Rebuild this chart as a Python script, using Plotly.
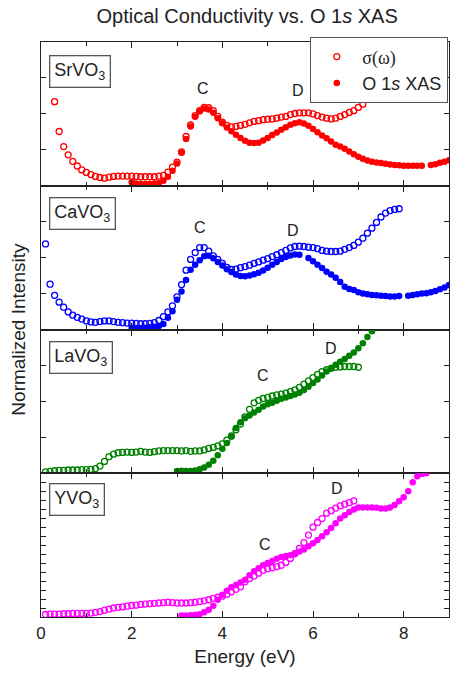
import plotly.graph_objects as go
from plotly.subplots import make_subplots

# ---------------- data (normalized intensity, arbitrary units 0-4 per panel) ----------------
sr_sig_x = [0.3,0.4,0.5,0.6,0.7,0.8,0.9,1.0,1.1,1.2,1.3,1.4,1.5,1.6,1.7,1.8,1.9,2.0,2.1,2.2,2.3,2.4,2.5,2.6,2.7,2.8,2.9,3.0,
            3.1,3.2,3.3,3.4,3.5,3.6,3.7,3.8,3.9,4.0,4.1,4.2,4.3,4.4,4.5,4.6,4.7,4.8,4.9,5.0,5.1,5.2,5.3,5.4,5.5,5.6,5.7,5.8,
            5.9,6.0,6.1,6.2,6.3,6.4,6.5,6.6,6.7,6.8,6.9,7.0,7.1,7.2,7.3,7.4,7.5,7.6,7.7,7.8]
sr_sig_y = [2.34,1.51,1.09,0.86,0.68,0.55,0.44,0.37,0.31,0.26,0.23,0.21,0.24,0.26,0.27,0.27,0.27,0.27,0.26,0.25,0.25,0.25,0.25,0.27,0.29,0.38,0.52,0.66,
            0.94,1.37,1.69,1.95,2.09,2.18,2.17,2.09,1.93,1.77,1.68,1.64,1.65,1.68,1.71,1.75,1.79,1.81,1.84,1.85,1.86,1.88,1.91,1.93,1.98,2.01,2.03,2.03,
            2.03,2.00,1.95,1.91,1.88,1.86,1.88,1.93,1.98,2.04,2.09,2.18,2.27,2.41,2.57,2.75,2.95,3.15,3.35,3.52]
sr_xas_x = [2.0,2.1,2.2,2.3,2.4,2.5,2.6,2.7,2.8,2.9,3.0,3.1,3.2,3.3,3.4,3.5,3.6,3.7,3.8,3.9,4.0,4.1,4.2,4.3,4.4,4.5,4.6,4.7,4.8,4.9,
            5.0,5.1,5.2,5.3,5.4,5.5,5.6,5.7,5.8,5.9,6.0,6.1,6.2,6.3,6.4,6.5,6.6,6.7,6.8,6.9,7.0,7.1,7.2,7.3,7.4,7.5,7.6,7.7,7.8,7.9,
            8.0,8.1,8.2,8.3,8.4,8.6,8.7,8.8,8.9,9.0]
sr_xas_y = [0.10,0.06,0.05,0.05,0.05,0.06,0.08,0.14,0.25,0.42,0.62,0.92,1.30,1.65,1.92,2.07,2.15,2.12,2.03,1.88,1.74,1.62,1.52,1.42,1.33,1.25,1.20,1.19,1.20,1.26,
            1.33,1.41,1.48,1.56,1.63,1.70,1.74,1.77,1.73,1.67,1.58,1.49,1.40,1.32,1.23,1.14,1.09,1.03,0.95,0.88,0.81,0.75,0.70,0.67,0.65,0.63,0.61,0.59,0.58,0.57,
            0.56,0.56,0.56,0.56,0.56,0.58,0.60,0.64,0.67,0.71]

ca_sig_x = [0.1,0.2,0.3,0.4,0.5,0.6,0.7,0.8,0.9,1.0,1.1,1.2,1.3,1.4,1.5,1.6,1.7,1.8,1.9,2.0,2.1,2.2,2.3,2.4,2.5,2.6,2.7,2.8,2.9,3.0,
            3.1,3.2,3.3,3.4,3.5,3.6,3.7,3.8,3.9,4.0,4.1,4.2,4.3,4.4,4.5,4.6,4.7,4.8,4.9,5.0,5.1,5.2,5.3,5.4,5.5,5.6,5.7,5.8,5.9,6.0,
            6.1,6.2,6.3,6.4,6.5,6.6,6.7,6.8,6.9,7.0,7.1,7.2,7.3,7.4,7.5,7.6,7.7,7.8,7.9]
ca_sig_y = [2.38,1.26,0.95,0.76,0.62,0.49,0.40,0.34,0.29,0.24,0.21,0.20,0.22,0.24,0.24,0.22,0.20,0.19,0.18,0.18,0.17,0.16,0.16,0.17,0.19,0.25,0.36,0.49,0.66,0.91,
            1.25,1.65,1.95,2.14,2.28,2.28,2.18,2.05,1.95,1.84,1.73,1.67,1.68,1.72,1.75,1.79,1.84,1.88,1.93,1.97,2.03,2.08,2.14,2.20,2.27,2.31,2.32,2.31,2.29,2.28,
            2.25,2.20,2.18,2.17,2.17,2.18,2.23,2.28,2.34,2.43,2.54,2.68,2.82,2.98,3.13,3.24,3.31,3.34,3.36]
ca_xas_x = [2.0,2.1,2.2,2.3,2.4,2.5,2.6,2.7,2.8,2.9,3.0,3.1,3.2,3.3,3.4,3.5,3.6,3.7,3.8,3.9,4.0,4.1,4.2,4.3,4.4,4.5,4.6,4.7,4.8,4.9,
            5.0,5.1,5.2,5.3,5.4,5.5,5.6,5.7,5.9,6.0,6.1,6.2,6.3,6.4,6.5,6.6,6.7,6.8,6.9,7.0,7.1,7.2,7.3,7.4,7.5,7.6,7.7,7.8,7.9,
            8.1,8.2,8.3,8.4,8.5,8.6,8.7,8.8,8.9,9.0]
ca_xas_y = [0.04,0.04,0.04,0.05,0.06,0.08,0.10,0.15,0.33,0.51,0.83,1.06,1.38,1.66,1.80,1.93,2.04,2.05,1.98,1.88,1.78,1.68,1.60,1.53,1.49,1.48,1.50,1.54,1.58,1.64,
            1.72,1.80,1.88,1.96,2.02,2.06,2.09,2.08,1.99,1.90,1.80,1.71,1.61,1.53,1.44,1.32,1.19,1.13,1.10,1.04,1.00,0.98,0.96,0.95,0.94,0.93,0.92,0.92,0.93,
            0.94,0.96,0.98,1.00,1.01,1.04,1.07,1.12,1.17,1.24]

la_sig_x = [0.1,0.2,0.3,0.4,0.5,0.6,0.7,0.8,0.9,1.0,1.1,1.2,1.3,1.4,1.5,1.6,1.7,1.8,1.9,2.0,2.1,2.2,2.3,2.4,2.5,2.6,2.7,2.8,2.9,3.0,
            3.1,3.2,3.3,3.4,3.5,3.6,3.7,3.8,3.9,4.0,4.1,4.2,4.3,4.4,4.5,4.6,4.7,4.8,4.9,5.0,5.1,5.2,5.3,5.4,5.5,5.6,5.7,5.8,5.9,6.0,
            6.1,6.2,6.3,6.4,6.5,6.6,6.7,6.8,6.9,7.0]
la_sig_y = [0.04,0.05,0.07,0.08,0.08,0.09,0.09,0.09,0.10,0.10,0.11,0.13,0.20,0.33,0.46,0.53,0.57,0.58,0.59,0.58,0.59,0.61,0.59,0.58,0.60,0.62,0.63,0.63,0.63,0.63,
            0.62,0.63,0.61,0.62,0.62,0.65,0.69,0.72,0.76,0.82,0.92,1.04,1.21,1.37,1.57,1.78,1.96,2.03,2.08,2.11,2.15,2.18,2.20,2.23,2.27,2.32,2.39,2.48,2.57,2.66,
            2.75,2.83,2.88,2.92,2.95,2.96,2.97,2.97,2.97,2.95]
la_xas_x = [3.0,3.1,3.2,3.3,3.4,3.5,3.6,3.7,3.8,3.9,4.0,4.1,4.2,4.3,4.4,4.5,4.6,4.7,4.8,4.9,5.0,5.1,5.2,5.3,5.4,5.5,5.6,5.7,5.8,5.9,
            6.0,6.1,6.2,6.3,6.4,6.5,6.6,6.7,6.8,6.9,7.0,7.1,7.2,7.3,7.4]
la_xas_y = [0.06,0.07,0.06,0.06,0.08,0.11,0.16,0.24,0.35,0.50,0.68,0.84,1.02,1.26,1.42,1.53,1.61,1.69,1.77,1.86,1.92,1.96,2.02,2.07,2.11,2.15,2.19,2.24,2.32,2.41,
            2.51,2.61,2.72,2.83,2.93,3.02,3.10,3.18,3.27,3.36,3.48,3.62,3.79,3.95,4.10]

y_sig_x = [0.1,0.2,0.3,0.4,0.5,0.6,0.7,0.8,0.9,1.0,1.1,1.2,1.3,1.4,1.5,1.6,1.7,1.8,1.9,2.0,2.1,2.2,2.3,2.4,2.5,2.6,2.7,2.8,2.9,3.0,
           3.1,3.2,3.3,3.4,3.5,3.6,3.7,3.8,3.9,4.0,4.1,4.2,4.3,4.4,4.5,4.6,4.7,4.8,4.9,5.0,5.1,5.2,5.3,5.4,5.5,5.6,5.7,5.8,5.9,6.0,
           6.1,6.2,6.3,6.4,6.5,6.6,6.7,6.8,6.9]
y_sig_y = [0.07,0.08,0.08,0.08,0.09,0.09,0.10,0.10,0.10,0.10,0.11,0.13,0.15,0.19,0.22,0.25,0.27,0.28,0.30,0.32,0.33,0.35,0.36,0.37,0.38,0.39,0.40,0.41,0.40,0.39,
           0.39,0.39,0.40,0.41,0.43,0.45,0.48,0.52,0.55,0.58,0.63,0.70,0.77,0.84,0.98,1.07,1.14,1.22,1.30,1.34,1.37,1.40,1.44,1.52,1.63,1.76,1.91,2.07,2.28,2.50,
           2.63,2.74,2.89,2.96,3.03,3.09,3.14,3.18,3.23]
y_xas_x = [3.1,3.2,3.3,3.4,3.5,3.6,3.7,3.8,3.9,4.0,4.1,4.2,4.3,4.4,4.5,4.6,4.7,4.8,4.9,5.0,5.1,5.2,5.3,5.4,5.5,5.6,5.7,5.8,5.9,6.0,
           6.1,6.2,6.3,6.4,6.5,6.6,6.7,6.8,6.9,7.0,7.1,7.2,7.3,7.4,7.5,7.6,7.7,7.8,7.9,8.0,8.1,8.2,8.3,8.4,8.5]
y_xas_y = [0.04,0.04,0.05,0.06,0.08,0.13,0.20,0.31,0.48,0.62,0.73,0.83,0.89,0.96,1.04,1.16,1.27,1.36,1.44,1.50,1.56,1.62,1.67,1.70,1.72,1.77,1.82,1.88,1.97,2.05,
           2.14,2.25,2.36,2.48,2.61,2.74,2.83,2.92,2.99,3.05,3.05,3.05,3.05,3.04,3.02,3.02,3.05,3.12,3.22,3.33,3.50,3.75,3.92,3.98,4.00]

panels = [
    ("SrVO<sub>3</sub>", "#FF0000", sr_sig_x, sr_sig_y, sr_xas_x, sr_xas_y, (3.57, 2.71), (5.67, 2.65)),
    ("CaVO<sub>3</sub>", "#0000FF", ca_sig_x, ca_sig_y, ca_xas_x, ca_xas_y, (3.51, 2.84), (5.56, 2.75)),
    ("LaVO<sub>3</sub>", "#008000", la_sig_x, la_sig_y, la_xas_x, la_xas_y, (4.89, 2.72), (6.40, 3.47)),
    ("YVO<sub>3</sub>", "#FF00FF", y_sig_x, y_sig_y, y_xas_x, y_xas_y, (4.94, 2.03), (6.53, 3.57)),
]
box_top = [0.91, 0.92, 0.92, 0.932]

FONT = "Liberation Sans, Arial, sans-serif"
TXT = "#222222"

fig = make_subplots(rows=4, cols=1, shared_xaxes=True, vertical_spacing=0)

for i, (name, col, sx, sy, xx, xy, cpos, dpos) in enumerate(panels):
    r = i + 1
    fig.add_trace(go.Scatter(x=sx, y=sy, mode="markers", name="<span style='font-family:Liberation Serif'>σ(ω)</span>",
                             marker=dict(symbol="circle-open", size=6, color=col, line=dict(width=1.3, color=col)),
                             showlegend=(i == 0)), row=r, col=1)
    fig.add_trace(go.Scatter(x=xx, y=xy, mode="markers", name="O 1<i>s</i> XAS",
                             marker=dict(symbol="circle", size=6.5, color=col, line=dict(width=0)),
                             showlegend=(i == 0)), row=r, col=1)
    yref = "y" if r == 1 else f"y{r}"
    xref = "x" if r == 1 else f"x{r}"
    fig.add_annotation(text=name, xref=f"{xref} domain", yref=f"{yref} domain", x=0.019, y=box_top[i],
                       xanchor="left", yanchor="top", showarrow=False, bordercolor="#555555", borderwidth=1.3,
                       borderpad=4, bgcolor="white", font=dict(size=18, color=TXT, family=FONT))
    fig.add_annotation(text="C", xref=xref, yref=yref, x=cpos[0], y=cpos[1], showarrow=False,
                       font=dict(size=16, color=TXT, family=FONT))
    fig.add_annotation(text="D", xref=xref, yref=yref, x=dpos[0], y=dpos[1], showarrow=False,
                       font=dict(size=16, color=TXT, family=FONT))
    fig.update_yaxes(row=r, col=1, range=[0, 4], dtick=(0.25 if r == 4 else 1), tick0=0,
                     showticklabels=False, ticks="inside", ticklen=5, tickcolor="#222",
                     showline=True, linecolor="#222", linewidth=1.3, mirror="ticks",
                     showgrid=False, zeroline=False)
    fig.update_xaxes(row=r, col=1, range=[0, 9], dtick=2, tick0=0, ticks="inside", ticklen=6, tickcolor="#222",
                     showline=True, linecolor="#222", linewidth=1.3, mirror="ticks",
                     showgrid=False, zeroline=False,
                     minor=dict(dtick=1, ticks="inside", ticklen=4, tickcolor="#222", showgrid=False),
                     tickfont=dict(size=17, color=TXT, family=FONT))

fig.update_xaxes(row=4, col=1, title=dict(text="Energy (eV)", font=dict(size=19, color=TXT, family=FONT), standoff=8))

fig.add_annotation(text="Normalized Intensity", xref="paper", yref="paper", x=-0.056, y=0.5, textangle=-90,
                   showarrow=False, xanchor="center", yanchor="middle", font=dict(size=19, color=TXT, family=FONT))

fig.update_layout(
    width=451, height=677,
    margin=dict(l=41, r=2, t=42, b=60, autoexpand=False),
    plot_bgcolor="white", paper_bgcolor="white",
    title=dict(text="Optical Conductivity vs. O 1<i>s</i> XAS", x=0.548, xanchor="center", y=0.976, yanchor="middle",
               font=dict(size=20, color=TXT, family=FONT)),
    legend=dict(xref="container", yref="container", x=0.6874, y=0.9453, xanchor="left", yanchor="top",
                bgcolor="white", bordercolor="#555555",
                borderwidth=1.3, font=dict(size=18, color=TXT, family=FONT), tracegroupgap=0, itemwidth=41),
    font=dict(family=FONT, color=TXT),
)

fig.write_html("out.html")
